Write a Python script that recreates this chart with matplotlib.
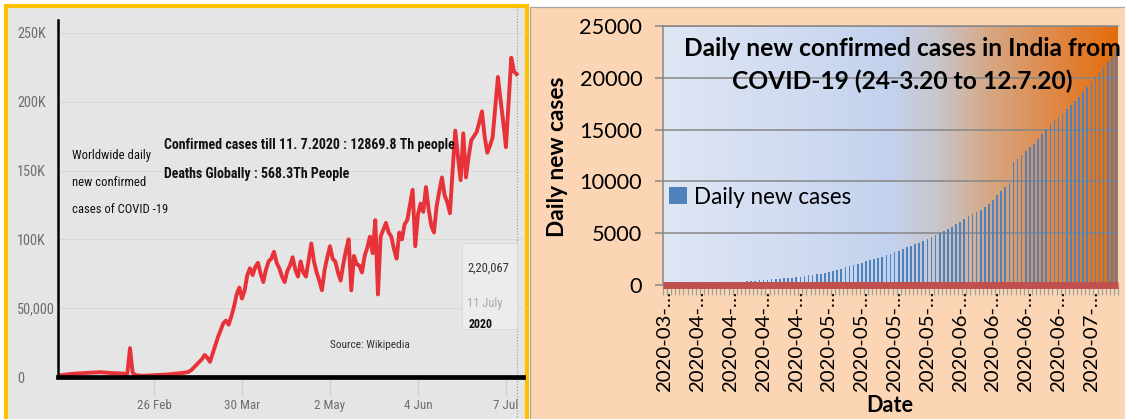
import numpy as np
import pandas as pd
import matplotlib
matplotlib.use("Agg")
import matplotlib.pyplot as plt
import matplotlib.dates as mdates
from matplotlib import font_manager as fm
from matplotlib.patches import Rectangle
from matplotlib.colors import LinearSegmentedColormap

# ---------------- data ----------------
world_start = "2020-01-21"
world_cases = [
    1000, 1200, 1500, 1800, 2000, 2200, 2400, 2500, 2600, 2700,
    2900, 3000, 3100, 3200, 3300, 3400, 3500, 3300, 3200, 3000,
    2900, 2800, 2700, 2600, 2500, 2400, 2300, 21000, 3000, 1500,
    1200, 1000, 900, 1000, 1100, 1200, 1300, 1400, 1500, 1600,
    1700, 1800, 2000, 2200, 2400, 2600, 2800, 3000, 3300, 3800,
    5000, 7000, 9000, 11000, 13000, 16000, 14000, 11000, 17000, 23000,
    29000, 34000, 39000, 41000, 38000, 44000, 51000, 60000, 65000, 57000,
    63000, 74000, 79000, 74000, 80000, 83000, 75000, 69000, 78000, 84000,
    86000, 91000, 83000, 79000, 73000, 69000, 77000, 81000, 87000, 78000,
    73000, 84000, 76000, 73000, 85000, 97000, 84000, 76000, 70000, 63000,
    78000, 87000, 95000, 86000, 84000, 76000, 70000, 82000, 92000, 100000,
    63000, 88000, 82000, 81000, 76000, 88000, 94000, 102000, 90000, 114000,
    60000, 102000, 107000, 112000, 105000, 102000, 93000, 86000, 105000, 100000,
    111000, 114000, 125000, 136000, 95000, 118000, 126000, 120000, 138000, 122000,
    110000, 105000, 124000, 135000, 145000, 132000, 127000, 119000, 150000, 179000,
    160000, 143000, 177000, 145000, 160000, 172000, 175000, 178000, 185000, 193000,
    175000, 163000, 168000, 174000, 196000, 218000, 201000, 185000, 167000, 200000,
    232000, 222000, 220067,
]
world_xtick_dates = ["2020-02-26", "2020-03-30", "2020-05-02", "2020-06-04", "2020-07-07"]
world_xtick_labels = ["26 Feb", "30 Mar", "2 May", "4 Jun", "7 Jul"]
world_yticks = [0, 50000, 100000, 150000, 200000, 250000]
world_ytick_labels = ["0", "50,000", "100K", "150K", "200K", "250K"]
world_note = ["Worldwide daily", "new confirmed", "cases of COVID -19"]
world_info = ["Confirmed cases till 11. 7.2020 : 12869.8 Th people",
              "Deaths Globally : 568.3Th People"]
tooltip_lines = ["2,20,067", "11 July", "2020"]
source_text = "Source: Wikipedia"

india_start = "2020-03-24"
india_cases = [
    80, 85, 90, 95, 100, 110, 115, 120, 130, 140,
    150, 160, 170, 185, 200, 220, 240, 260, 300, 330,
    360, 390, 430, 470, 500, 530, 550, 575, 600, 640,
    680, 720, 760, 790, 850, 920, 980, 1040, 1100, 1180,
    1260, 1350, 1460, 1570, 1690, 1810, 1930, 2050, 2170, 2300,
    2420, 2530, 2640, 2740, 2870, 3000, 3160, 3320, 3480, 3640,
    3800, 3960, 4100, 4230, 4420, 4600, 4800, 5000, 5200, 5400,
    5620, 5840, 6110, 6380, 6620, 6860, 7050, 7250, 7540, 7830,
    8230, 8640, 9040, 9440, 9870, 11870, 12190, 12560, 12940, 13300,
    13650, 14120, 14600, 15090, 15580, 15900, 16230, 16630, 17030, 17420,
    17800, 18160, 18640, 19130, 19610, 20100, 20580, 21070, 21550, 22030, 22740,
]
india_yticks = [0, 5000, 10000, 15000, 20000, 25000]
india_title = ["Daily new confirmed cases in India from", "COVID-19 (24-3.20 to 12.7.20)"]
india_series = "Daily new cases"
india_ylabel = "Daily new cases"
india_xlabel = "Date"

# ---------------- fonts ----------------
avail = {f.name for f in fm.fontManager.ttflist}
def pick(*names):
    for n in names:
        if n in avail:
            return n
    return "DejaVu Sans"
NARROW = pick("Liberation Sans Narrow", "Roboto Condensed", "Open Sans Condensed", "Roboto")
CAL = pick("Lato", "Open Sans", "Noto Sans")
plt.rcParams["font.family"] = [CAL, "DejaVu Sans"]

W, H = 1125, 419
fig = plt.figure(figsize=(W / 100, H / 100), dpi=100)
fig.patch.set_facecolor("white")
renderer = fig.canvas.get_renderer()

def fx(px):
    return px / W
def fy(py):
    return 1 - py / H

def size_for(s, target, family, weight="normal", base=20.0):
    t = fig.text(0, 0, s, fontsize=base, family=family, fontweight=weight)
    w = t.get_window_extent(renderer).width
    t.remove()
    return base * target / w

# ---------------- panel backgrounds ----------------
fig.add_artist(Rectangle((fx(6), fy(440)), 521 / W, 434 / H, transform=fig.transFigure,
                         facecolor="#e5e5e5", edgecolor="#ffc000", lw=3.0, zorder=0))
fig.add_artist(Rectangle((fx(530), fy(430)), 600 / W, 423 / H, transform=fig.transFigure,
                         facecolor="#fcd5b5", edgecolor="#a6a6a6", lw=0.9, zorder=0))

# ---------------- left chart ----------------
wdates = pd.date_range(world_start, periods=len(world_cases), freq="D")
d0 = mdates.date2num(pd.Timestamp(world_start))
ax1 = fig.add_axes([fx(58), fy(377), (523 - 58) / W, (377 - 20) / H])
ax1.set_facecolor("none")
ax1.plot(wdates, world_cases, color="#e8323a", lw=2.8, solid_joinstyle="round", zorder=2)
ax1.set_xlim(d0, d0 + 174.4)
ax1.set_ylim(0, 259400)
for sp in ["top", "right"]:
    ax1.spines[sp].set_visible(False)
ax1.spines["left"].set_color("black")
ax1.spines["left"].set_linewidth(1.8)
ax1.spines["bottom"].set_color("black")
ax1.spines["bottom"].set_linewidth(3.4)
ax1.spines["bottom"].set_zorder(3)

ylab_size = size_for("250K", 29, NARROW)
ax1.set_yticks(world_yticks)
ax1.set_yticklabels(world_ytick_labels, family=NARROW, fontsize=ylab_size, color="#6e6e6e")
ax1.tick_params(axis="y", length=0, pad=(58 - 17) * 0.72)
for lab in ax1.get_yticklabels():
    lab.set_horizontalalignment("left")
ax1.yaxis.grid(True, color="#d8d8d8", lw=0.8)
ax1.set_axisbelow(True)

xlab_size = size_for("26 Feb", 35, NARROW)
ax1.set_xticks(mdates.date2num(pd.to_datetime(world_xtick_dates)))
ax1.set_xticklabels(world_xtick_labels, family=NARROW, fontsize=xlab_size, color="#6e6e6e")
ax1.tick_params(axis="x", length=14, width=0.8, color="#d0d0d0", pad=2)

jul11 = mdates.date2num(wdates[-1])
ax1.axvline(jul11, ymin=-0.12, ymax=1.04, clip_on=False, ls=":", color="#9a9a9a", lw=0.8, zorder=1)

# tooltip box
fig.add_artist(Rectangle((fx(462), fy(329)), 55 / W, 86 / H, transform=fig.transFigure,
                         facecolor="#ececec", edgecolor="#d8d8d8", lw=0.6, zorder=1))
s_tt = size_for(tooltip_lines[0], 42, NARROW)
fig.text(fx(467), fy(268), tooltip_lines[0], family=NARROW, fontsize=s_tt, color="#333333",
         va="center", ha="left")
fig.text(fx(467), fy(304), tooltip_lines[1], family=NARROW, fontsize=s_tt, color="#aaaaaa",
         va="center", ha="left")
fig.text(fx(469), fy(324), tooltip_lines[2], family=NARROW, fontsize=s_tt * 0.95, color="#111111",
         fontweight="bold", va="center", ha="left")

# notes
s_note = size_for(world_note[0], 78, NARROW)
for i, line in enumerate(world_note):
    fig.text(fx(72), fy(155 + 27 * i), line, family=NARROW, fontsize=s_note, color="#111111",
             va="center", ha="left")
s_info = size_for(world_info[0], 290, NARROW, weight="bold")
for i, line in enumerate(world_info):
    fig.text(fx(164), fy(145 + 29 * i), line, family=NARROW, fontsize=s_info, color="#111111",
             fontweight="bold", va="center", ha="left")
s_src = size_for(source_text, 80, NARROW)
fig.text(fx(330), fy(345), source_text, family=NARROW, fontsize=s_src, color="#333333",
         va="center", ha="left")

# ---------------- right chart ----------------
n = len(india_cases)
idx = np.arange(n)
idates = pd.date_range(india_start, periods=n, freq="D")
ax2 = fig.add_axes([fx(663), fy(285), 455 / W, 259 / H])
grad_cmap = LinearSegmentedColormap.from_list("bg", [
    (0.00, "#dfe6f4"), (0.25, "#d3ddf1"), (0.50, "#c2d2ee"), (0.60, "#c8c6cd"),
    (0.72, "#d6a783"), (0.85, "#df8a4c"), (1.00, "#e46c0a")])
grad = np.linspace(0, 1, 512).reshape(1, -1)
ax2.imshow(grad, extent=[-0.5, n - 0.5, 0, 25000], aspect="auto", cmap=grad_cmap,
           zorder=-1, interpolation="bilinear")
ax2.bar(idx, india_cases, width=0.4, color="#4f81bd", zorder=2, label=india_series)
ax2.axhline(0, color="#c0504d", lw=5.0, zorder=3, solid_capstyle="butt", clip_on=False)
ax2.set_xlim(-0.5, n - 0.5)
ax2.set_ylim(0, 25000)
ax2.set_yticks(india_yticks)
ax2.yaxis.grid(True, color="#868686", lw=1.1, zorder=1)
ax2.set_axisbelow(True)
for sp in ["right", "bottom"]:
    ax2.spines[sp].set_visible(False)
ax2.spines["top"].set_color("#868686")
ax2.spines["top"].set_linewidth(1.1)
ax2.spines["left"].set_color("#868686")
ax2.spines["left"].set_linewidth(1.1)

s_ytk = size_for("25000", 63, CAL)
ax2.tick_params(axis="y", length=6, width=1.1, color="#868686", labelsize=s_ytk,
                pad=9, labelcolor="#000000")

major = idx[::8]
ax2.set_xticks(major)
ax2.set_xticklabels([d.strftime("%Y-%m-") + "\u2026" for d in idates[::8]], rotation=90)
s_xtk = size_for("2020-03-\u2026", 101, CAL)
ax2.tick_params(axis="x", which="major", length=0, pad=4, labelsize=s_xtk)
ax2.set_xticks(np.arange(-0.5, n, 1), minor=True)
ax2.tick_params(axis="x", which="minor", length=7, width=0.9, color="#a0a0a0")

s_lab = size_for(india_ylabel, 160, CAL, weight="bold")
fig.text(fx(558), fy(157), india_ylabel, rotation=90, fontsize=s_lab, fontweight="bold",
         ha="center", va="center")
s_date = size_for(india_xlabel, 47, CAL, weight="bold")
fig.text(fx(890), fy(405), india_xlabel, fontsize=s_date, fontweight="bold",
         ha="center", va="center")
s_title = size_for(india_title[0], 436, CAL, weight="bold")
fig.text(fx(902), fy(48), india_title[0], fontsize=s_title, fontweight="bold",
         ha="center", va="center", zorder=5)
fig.text(fx(902), fy(81), india_title[1], fontsize=s_title, fontweight="bold",
         ha="center", va="center", zorder=5)

s_leg = size_for(india_series, 158, CAL)
ax2.legend(loc="center left", bbox_to_anchor=(fx(669), fy(197)), bbox_transform=fig.transFigure,
           frameon=False, fontsize=s_leg, handlelength=0.8, handleheight=0.8,
           handletextpad=0.3, borderpad=0, borderaxespad=0)

fig.savefig("out.png", dpi=100)
